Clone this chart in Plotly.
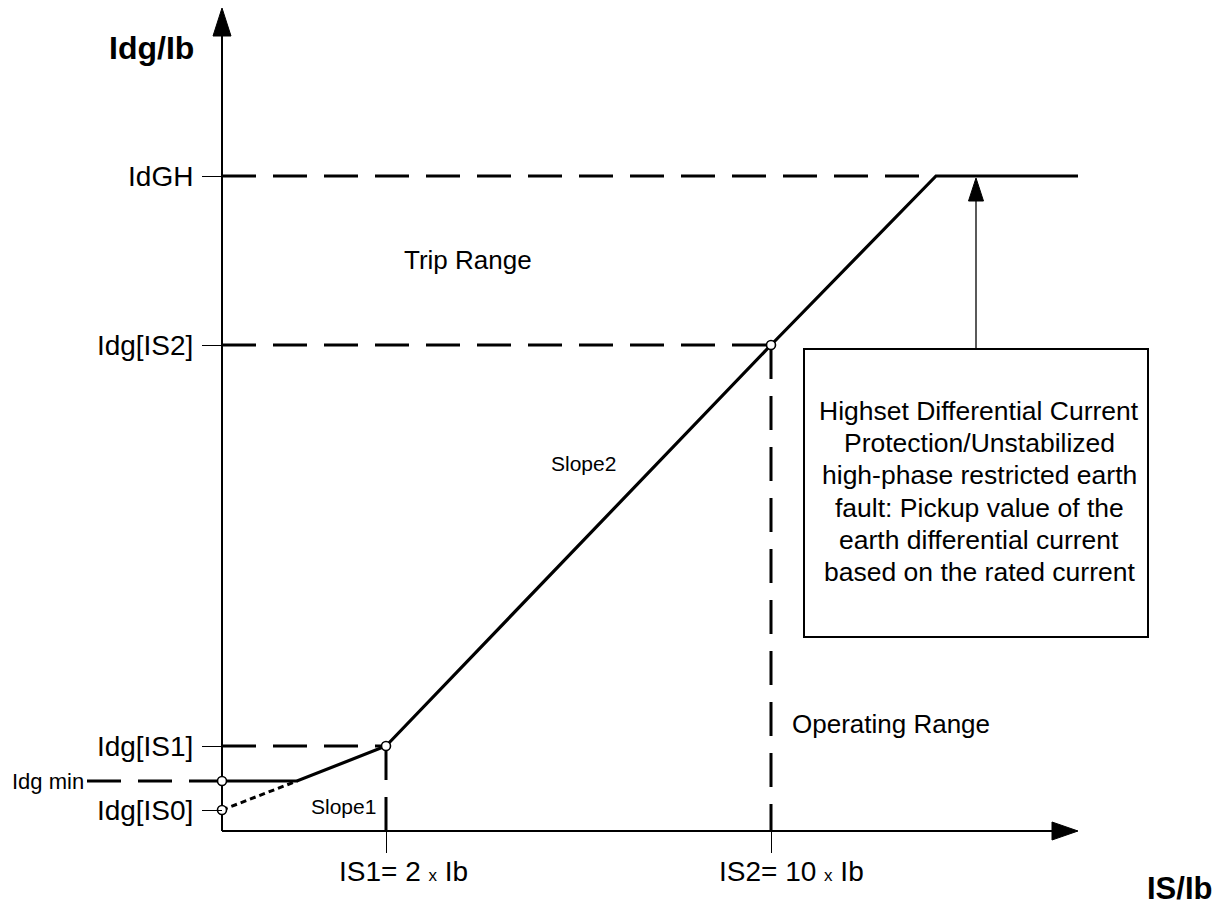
import plotly.graph_objects as go

# ---------------- data (diagram units: px offset from the axes origin) ----------------
y_tick_values = [655, 486, 85, 21]
y_tick_labels = ["IdGH", "Idg[IS2]", "Idg[IS1]", "Idg[IS0]"]
idg_min_value = 50
idg_min_label = "Idg min"

x_tick_values = [164, 549]
x_tick_labels = ['IS1= 2 <span style="font-size:17px">x</span> Ib',
                 'IS2= 10 <span style="font-size:17px">x</span> Ib']

# tripping characteristic (solid)
curve_x = [0, 75, 164, 549, 714, 856]
curve_y = [50, 50, 85, 486, 655, 655]
# extension of slope 1 down to Idg[IS0] (dotted)
slope1_ext_x = [0, 75]
slope1_ext_y = [21, 50]

# marked points (open circles)
point_x = [0, 0, 164, 549]
point_y = [50, 21, 85, 486]

# axis extents
x_axis_end = 856
y_axis_end = 823

box_lines = ["Highset Differential Current", "Protection/Unstabilized",
             "high-phase restricted earth", "fault: Pickup value of the",
             "earth differential current", "based on the rated current"]
box_x = [582, 926]
box_y = [194, 482]
arrow_x = 754
arrow_tip_y = 653

FONT = "Liberation Sans, Arial, sans-serif"
BLACK = "#000000"

# figure geometry (page has an 8px body margin)
W, H = 1211, 894
ORIGIN_X, ORIGIN_Y = 214, 823   # origin position inside the figure, px

fig = go.Figure()

# axes lines
fig.add_trace(go.Scatter(x=[0, 0], y=[0, y_axis_end - 28], mode="lines",
                         line=dict(color=BLACK, width=2), hoverinfo="skip"))
fig.add_trace(go.Scatter(x=[0, x_axis_end - 26], y=[0, 0], mode="lines",
                         line=dict(color=BLACK, width=2), hoverinfo="skip"))
# arrowheads
fig.add_trace(go.Scatter(x=[-9, 9, 0, -9], y=[y_axis_end - 28, y_axis_end - 28, y_axis_end, y_axis_end - 28],
                         mode="lines", fill="toself", fillcolor=BLACK,
                         line=dict(color=BLACK, width=1), hoverinfo="skip"))
fig.add_trace(go.Scatter(x=[x_axis_end - 26, x_axis_end - 26, x_axis_end, x_axis_end - 26], y=[-9, 9, 0, -9],
                         mode="lines", fill="toself", fillcolor=BLACK,
                         line=dict(color=BLACK, width=1), hoverinfo="skip"))

DASH = "34px,17px"
# horizontal dashed reference lines
fig.add_trace(go.Scatter(x=[0, curve_x[-2]], y=[y_tick_values[0]] * 2, mode="lines",
                         line=dict(color=BLACK, width=3, dash=DASH), hoverinfo="skip"))
fig.add_trace(go.Scatter(x=[0, x_tick_values[1]], y=[y_tick_values[1]] * 2, mode="lines",
                         line=dict(color=BLACK, width=3, dash=DASH), hoverinfo="skip"))
fig.add_trace(go.Scatter(x=[0, x_tick_values[0]], y=[y_tick_values[2]] * 2, mode="lines",
                         line=dict(color=BLACK, width=3, dash=DASH), hoverinfo="skip"))
fig.add_trace(go.Scatter(x=[-135, 0], y=[idg_min_value] * 2, mode="lines",
                         line=dict(color=BLACK, width=3, dash=DASH), hoverinfo="skip"))
# vertical dashed reference lines
fig.add_trace(go.Scatter(x=[x_tick_values[0]] * 2, y=[y_tick_values[2], 0], mode="lines",
                         line=dict(color=BLACK, width=3, dash=DASH), hoverinfo="skip"))
fig.add_trace(go.Scatter(x=[x_tick_values[1]] * 2, y=[y_tick_values[1], 0], mode="lines",
                         line=dict(color=BLACK, width=3, dash=DASH), hoverinfo="skip"))

# dotted extension of slope 1
fig.add_trace(go.Scatter(x=slope1_ext_x, y=slope1_ext_y, mode="lines",
                         line=dict(color=BLACK, width=3, dash="6px,4px"), hoverinfo="skip"))
# characteristic
fig.add_trace(go.Scatter(x=curve_x, y=curve_y, mode="lines",
                         line=dict(color=BLACK, width=3.2), hoverinfo="skip"))
# open circles
fig.add_trace(go.Scatter(x=point_x, y=point_y, mode="markers",
                         marker=dict(size=9, color="white", line=dict(color=BLACK, width=1.6)),
                         hoverinfo="skip", cliponaxis=False))

# pointer arrow from box to IdGH
fig.add_trace(go.Scatter(x=[arrow_x, arrow_x], y=[box_y[1], arrow_tip_y - 23], mode="lines",
                         line=dict(color=BLACK, width=1.3), hoverinfo="skip"))
fig.add_trace(go.Scatter(x=[arrow_x - 7.5, arrow_x + 7.5, arrow_x, arrow_x - 7.5],
                         y=[arrow_tip_y - 23, arrow_tip_y - 23, arrow_tip_y, arrow_tip_y - 23],
                         mode="lines", fill="toself", fillcolor=BLACK,
                         line=dict(color=BLACK, width=1), hoverinfo="skip"))

# box
fig.add_shape(type="rect", xref="x", yref="y", x0=box_x[0], x1=box_x[1], y0=box_y[0], y1=box_y[1],
              line=dict(color=BLACK, width=2), fillcolor="rgba(0,0,0,0)")

annotations = [
    dict(x=-71, y=783, text="<b>Idg/Ib</b>", font=dict(size=32)),
    dict(x=957, y=-57, text="<b>IS/Ib</b>", font=dict(size=31)),
    dict(x=246, y=571, text="Trip Range", font=dict(size=26)),
    dict(x=669, y=107, text="Operating Range", font=dict(size=26)),
    dict(x=121, y=25, text="Slope1", font=dict(size=21)),
    dict(x=361, y=368, text="Slope2", font=dict(size=21)),
    dict(x=-212, y=idg_min_value, text=idg_min_label, font=dict(size=22), xanchor="left"),
    dict(x=x_tick_values[0], y=-40, text=x_tick_labels[0], font=dict(size=28), xshift=17),
    dict(x=x_tick_values[1], y=-40, text=x_tick_labels[1], font=dict(size=28), xshift=20),
]
# box text, one annotation per line
box_cx = (box_x[0] + box_x[1]) / 2 + 3
for i, line in enumerate(box_lines):
    annotations.append(dict(x=box_cx, y=420 - 32.2 * i, text=line, font=dict(size=26.5)))

for a in annotations:
    a.setdefault("xanchor", "center")
    a.update(xref="x", yref="y", showarrow=False, yanchor="middle", align="center")
    a["font"].update(family=FONT, color=BLACK)
    fig.add_annotation(**a)

fig.update_layout(
    width=W, height=H,
    margin=dict(l=0, r=0, t=0, b=0),
    paper_bgcolor="white", plot_bgcolor="white",
    showlegend=False,
    font=dict(family=FONT, color=BLACK),
    xaxis=dict(range=[-ORIGIN_X, W - ORIGIN_X], showgrid=False, zeroline=False, showline=False,
               anchor="free", position=(H - ORIGIN_Y) / H, automargin=False,
               ticks="outside", ticklen=21, tickwidth=1, tickcolor=BLACK,
               tickvals=x_tick_values, showticklabels=False, fixedrange=True),
    yaxis=dict(range=[ORIGIN_Y - H, ORIGIN_Y], showgrid=False, zeroline=False, showline=False,
               anchor="free", position=ORIGIN_X / W, automargin=False,
               ticks="outside", ticklen=20, tickwidth=1, tickcolor=BLACK,
               tickvals=y_tick_values, ticktext=y_tick_labels, ticklabelstandoff=3,
               tickfont=dict(family=FONT, size=28, color=BLACK), fixedrange=True),
)

fig.write_html("out.html")
